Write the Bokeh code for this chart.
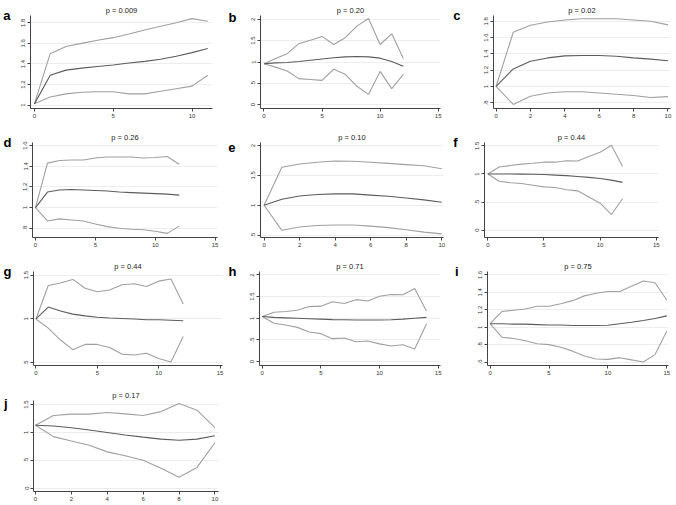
from bokeh.plotting import figure
from bokeh.layouts import row, column
from bokeh.models import Range1d, FixedTicker, CustomJSTickFormatter, LinearAxis
from bokeh.embed import file_html
from bokeh.resources import INLINE

# ---------------- data ----------------
letters = ["a", "b", "c", "d", "e", "f", "g", "h", "i", "j"]
titles = ["p = 0.009", "p = 0.20", "p = 0.02", "p = 0.26", "p = 0.10",
          "p = 0.44", "p = 0.44", "p = 0.71", "p = 0.75", "p = 0.17"]

a_up = [1.013, 1.50, 1.57, 1.60, 1.63, 1.655, 1.69, 1.73, 1.765, 1.80, 1.84, 1.815]
a_mid = [1.013, 1.29, 1.34, 1.36, 1.375, 1.39, 1.41, 1.425, 1.445, 1.475, 1.51, 1.55]
a_lo = [1.013, 1.08, 1.11, 1.125, 1.13, 1.13, 1.11, 1.11, 1.135, 1.16, 1.185, 1.29]

b_up = [0.96, 1.08, 1.195, 1.43, 1.51, 1.60, 1.41, 1.57, 1.84, 2.02, 1.41, 1.66, 1.08]
b_mid = [0.96, 0.98, 0.99, 1.01, 1.04, 1.07, 1.10, 1.12, 1.13, 1.12, 1.09, 1.01, 0.90]
b_lo = [0.96, 0.88, 0.79, 0.61, 0.59, 0.57, 0.83, 0.71, 0.43, 0.24, 0.78, 0.375, 0.71]

c_up = [1.0, 1.665, 1.75, 1.79, 1.815, 1.83, 1.83, 1.83, 1.815, 1.80, 1.755]
c_mid = [1.0, 1.215, 1.31, 1.35, 1.375, 1.38, 1.38, 1.37, 1.35, 1.335, 1.315]
c_lo = [1.0, 0.78, 0.88, 0.92, 0.935, 0.935, 0.92, 0.905, 0.89, 0.865, 0.875]

d_up = [1.0, 1.43, 1.455, 1.46, 1.46, 1.48, 1.49, 1.49, 1.49, 1.48, 1.485, 1.495, 1.42]
d_mid = [1.0, 1.15, 1.17, 1.175, 1.17, 1.165, 1.16, 1.15, 1.145, 1.14, 1.135, 1.13, 1.12]
d_lo = [1.0, 0.87, 0.89, 0.88, 0.87, 0.84, 0.815, 0.80, 0.79, 0.785, 0.77, 0.75, 0.82]

e_up = [1.0, 1.635, 1.69, 1.72, 1.74, 1.735, 1.72, 1.70, 1.68, 1.66, 1.61]
e_mid = [1.0, 1.10, 1.155, 1.18, 1.19, 1.19, 1.17, 1.15, 1.12, 1.09, 1.05]
e_lo = [1.0, 0.58, 0.635, 0.66, 0.67, 0.67, 0.65, 0.625, 0.59, 0.55, 0.52]

f_up = [1.0, 1.125, 1.15, 1.175, 1.19, 1.21, 1.21, 1.235, 1.23, 1.31, 1.385, 1.51, 1.135]
f_mid = [1.0, 1.0, 1.0, 0.998, 0.995, 0.99, 0.98, 0.97, 0.955, 0.94, 0.92, 0.89, 0.85]
f_lo = [1.0, 0.87, 0.845, 0.83, 0.80, 0.77, 0.76, 0.72, 0.70, 0.59, 0.48, 0.28, 0.56]

g_up = [1.0, 1.38, 1.41, 1.45, 1.35, 1.31, 1.33, 1.39, 1.40, 1.37, 1.43, 1.455, 1.17]
g_mid = [1.0, 1.135, 1.09, 1.055, 1.035, 1.02, 1.01, 1.005, 1.0, 0.99, 0.99, 0.985, 0.98]
g_lo = [1.0, 0.895, 0.76, 0.65, 0.71, 0.71, 0.675, 0.60, 0.59, 0.61, 0.55, 0.51, 0.80]

h_up = [1.04, 1.14, 1.155, 1.185, 1.27, 1.28, 1.38, 1.34, 1.43, 1.40, 1.51, 1.55, 1.545, 1.69, 1.17]
h_mid = [1.04, 1.02, 1.01, 1.0, 0.99, 0.98, 0.97, 0.965, 0.96, 0.96, 0.96, 0.965, 0.98, 1.0, 1.02]
h_lo = [1.04, 0.885, 0.845, 0.79, 0.685, 0.645, 0.53, 0.545, 0.46, 0.475, 0.41, 0.36, 0.39, 0.29, 0.87]

i_up = [1.04, 1.18, 1.195, 1.21, 1.24, 1.24, 1.27, 1.305, 1.36, 1.39, 1.41, 1.41, 1.47, 1.53, 1.51, 1.31]
i_mid = [1.04, 1.04, 1.035, 1.035, 1.03, 1.025, 1.025, 1.02, 1.02, 1.02, 1.023, 1.04, 1.057, 1.077, 1.10, 1.13]
i_lo = [1.04, 0.885, 0.87, 0.845, 0.81, 0.80, 0.77, 0.725, 0.67, 0.635, 0.63, 0.65, 0.625, 0.60, 0.685, 0.955]

j_up = [1.13, 1.305, 1.33, 1.33, 1.36, 1.335, 1.305, 1.375, 1.52, 1.40, 1.085]
j_mid = [1.13, 1.115, 1.085, 1.045, 1.0, 0.955, 0.915, 0.88, 0.86, 0.88, 0.94]
j_lo = [1.13, 0.925, 0.845, 0.77, 0.65, 0.58, 0.50, 0.355, 0.195, 0.37, 0.815]

uppers = [a_up, b_up, c_up, d_up, e_up, f_up, g_up, h_up, i_up, j_up]
middles = [a_mid, b_mid, c_mid, d_mid, e_mid, f_mid, g_mid, h_mid, i_mid, j_mid]
lowers = [a_lo, b_lo, c_lo, d_lo, e_lo, f_lo, g_lo, h_lo, i_lo, j_lo]

# axis ticks and labels
x_ticks = [[0, 5, 10], [0, 5, 10, 15], [0, 2, 4, 6, 8, 10], [0, 5, 10, 15], [0, 2, 4, 6, 8, 10],
           [0, 5, 10, 15], [0, 5, 10, 15], [0, 5, 10, 15], [0, 5, 10, 15], [0, 2, 4, 6, 8, 10]]
y_ticks = [[1, 1.2, 1.4, 1.6, 1.8], [0, 0.5, 1, 1.5, 2], [0.8, 1, 1.2, 1.4, 1.6, 1.8],
           [0.8, 1, 1.2, 1.4, 1.6], [0.5, 1, 1.5, 2], [0, 0.5, 1, 1.5], [0.5, 1, 1.5],
           [0, 0.5, 1, 1.5, 2], [0.6, 0.8, 1, 1.2, 1.4, 1.6], [0, 0.5, 1, 1.5]]
y_labels = [["1", "1.2", "1.4", "1.6", "1.8"], ["0", ".5", "1", "1.5", "2"],
            [".8", "1", "1.2", "1.4", "1.6", "1.8"], [".8", "1", "1.2", "1.4", "1.6"],
            [".5", "1", "1.5", "2"], ["0", ".5", "1", "1.5"], [".5", "1", "1.5"],
            ["0", ".5", "1", "1.5", "2"], [".6", ".8", "1", "1.2", "1.4", "1.6"],
            ["0", ".5", "1", "1.5"]]
x_ranges = [(-0.25, 11.3), (-0.3, 15.2), (-0.15, 10.15), (-0.25, 15.2), (-0.2, 10.1),
            (-0.3, 15.2), (-0.2, 15.2), (-0.23, 15.2), (-0.22, 15.14), (-0.11, 10.2)]
y_ranges = [(0.968, 1.87), (-0.09, 2.09), (0.73, 1.87), (0.71, 1.63), (0.46, 2.05),
            (-0.13, 1.56), (0.47, 1.54), (-0.09, 2.08), (0.56, 1.64), (-0.063, 1.575)]

# ---------------- layout / style ----------------
FONT = "Liberation Sans"
CELL_W = 225
borders_lr = [(30, 13), (33, 10), (40, 5), (32, 8), (33, 7), (34, 17), (32, 3), (33, 10), (37, 7), (32, 7)]
rows_cfg = [(125, 15, 17), (128, 17, 16), (127, 18, 15), (123, 20, 12)]
letter_gap = [8, 12, 21, 9, 13, 15, 10, 11, 17, 14]
letter_pos = [0.999, 0.982, 0.995, 0.995, 0.947, 0.999, 0.999, 0.999, 0.999, 0.967]

CI_COLOR = "#a0a0a0"
MID_COLOR = "#5c5c5c"

figs = []
for k in range(10):
    r, c = divmod(k, 3)
    h, bt, bb = rows_cfg[r]
    bl, br = borders_lr[k]
    p = figure(width=CELL_W, height=h, output_backend="svg", toolbar_location=None,
               x_range=Range1d(*x_ranges[k]), y_range=Range1d(*y_ranges[k]),
               min_border_left=bl, min_border_right=br, min_border_top=bt, min_border_bottom=bb,
               title=titles[k])
    p.title.align = "center"
    p.title.text_font = FONT
    p.title.text_font_size = "7.5px"
    p.title.text_font_style = "normal"
    p.title.text_color = "#222222"
    p.title.standoff = 1
    p.outline_line_color = None
    p.background_fill_color = "white"
    p.border_fill_color = "white"
    p.xgrid.grid_line_color = None
    p.ygrid.grid_line_color = "#ededed"
    p.ygrid.grid_line_width = 1

    p.xaxis.ticker = FixedTicker(ticks=x_ticks[k])
    p.yaxis.ticker = FixedTicker(ticks=y_ticks[k])
    p.yaxis.formatter = CustomJSTickFormatter(
        args=dict(tv=y_ticks[k], tl=y_labels[k]),
        code="for (let i = 0; i < tv.length; i++) { if (Math.abs(tv[i] - tick) < 1e-9) return tl[i]; } return '';")
    p.yaxis.major_label_orientation = "vertical"
    for ax in (p.xaxis, p.yaxis):
        ax.axis_line_color = "#444444"
        ax.major_tick_line_color = "#444444"
        ax.major_tick_out = 3
        ax.major_tick_in = 0
        ax.minor_tick_line_color = None
        ax.major_label_text_font = FONT
        ax.major_label_text_font_size = "6px"
        ax.major_label_text_color = "#333333"
        ax.major_label_standoff = 2

    xs = list(range(len(middles[k])))
    p.line(xs, uppers[k], line_color=CI_COLOR, line_width=1.1)
    p.line(xs, lowers[k], line_color=CI_COLOR, line_width=1.1)
    p.line(xs, middles[k], line_color=MID_COLOR, line_width=1.1)

    # panel letter, placed left of the y axis at the top of the panel
    p.extra_y_ranges = {"letter": Range1d(0, 1)}
    lax = LinearAxis(y_range_name="letter", ticker=FixedTicker(ticks=[letter_pos[k]]),
                     formatter=CustomJSTickFormatter(args=dict(s=letters[k]), code="return s;"),
                     axis_line_color=None, major_tick_line_color=None, minor_tick_line_color=None,
                     major_tick_out=0, major_tick_in=0,
                     major_label_orientation="horizontal", major_label_text_font=FONT,
                     major_label_text_font_size="13px", major_label_text_font_style="bold",
                     major_label_text_color="black", major_label_standoff=letter_gap[k])
    p.add_layout(lax, "left")
    figs.append(p)

layout = column(row(*figs[0:3]), row(*figs[3:6]), row(*figs[6:9]), row(figs[9]))
open("out.html", "w").write(file_html(layout, INLINE))
